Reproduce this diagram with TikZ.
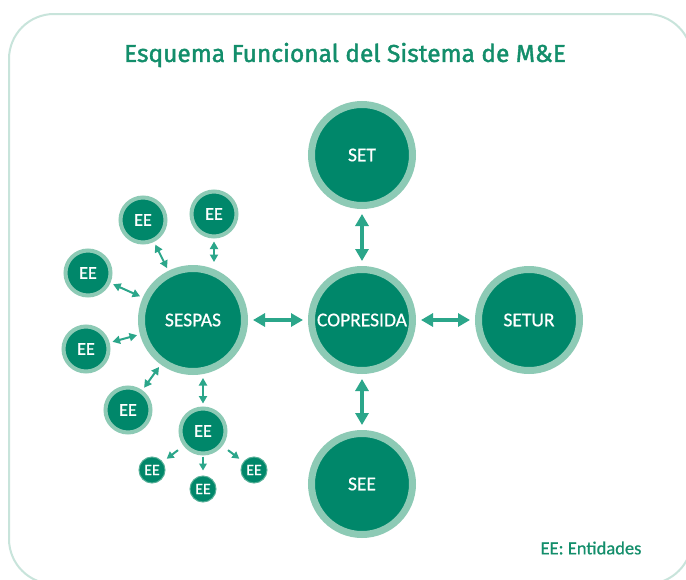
\documentclass[tikz,border=0pt]{standalone}
\usepackage{fontspec}
\setmainfont[FakeBold=0.6]{Carlito}
\newfontfamily\titlefont[FakeBold=1.6]{Fira Sans}
\usetikzlibrary{arrows.meta}
\definecolor{dkgreen}{HTML}{00876A}
\definecolor{ringgreen}{HTML}{8DCAB5}
\definecolor{arrowgreen}{HTML}{2BA68A}
\definecolor{titlegreen}{HTML}{138E6B}
\definecolor{framegreen}{HTML}{C8E4DB}
\begin{document}
\begin{tikzpicture}[x=1pt,y=-1pt,
  bignode/.style={circle, fill=dkgreen, draw=ringgreen, line width=7pt, minimum size=101pt, inner sep=0pt, text=white, font=\fontsize{19.5}{21}\selectfont},
  midnode/.style={circle, fill=dkgreen, draw=ringgreen, line width=4pt, minimum size=45pt, inner sep=0pt, text=white, font=\fontsize{18}{19}\selectfont},
  smallnode/.style={circle, fill=dkgreen, draw=ringgreen!60!dkgreen, line width=1pt, minimum size=26pt, inner sep=0pt, text=white, font=\fontsize{16}{17}\selectfont},
  bigarrow/.style={draw=arrowgreen, line width=3.5pt, {Triangle[length=12pt,width=13pt]}-{Triangle[length=12pt,width=13pt]}, shorten >=5pt, shorten <=5pt},
  midarrow/.style={draw=arrowgreen, line width=2pt, {Triangle[length=7.5pt,width=8pt]}-{Triangle[length=7.5pt,width=8pt]}, shorten >=3pt, shorten <=3pt},
  outarrow/.style={draw=arrowgreen, line width=2pt, -{Triangle[length=7pt,width=7.5pt]}}
]
\useasboundingbox (0,0) rectangle (686,579);
\fill[white] (0,0) rectangle (686,579);
\begin{scope}
\clip (0,0) rectangle (686,579);
\draw[framegreen, line width=2pt, rounded corners=45pt] (9,14) rectangle (692,584);
\end{scope}

\node[text=titlegreen, font=\titlefont\fontsize{24.5}{28}\selectfont] (title) at (345,55) {Esquema Funcional del Sistema de M\&E};

\node[bignode] (set) at (362,155) {SET};
\node[bignode] (cop) at (362,320) {COPRESIDA};
\node[bignode] (setur) at (529,320) {SETUR};
\node[bignode] (see) at (362,484) {SEE};
\node[bignode, minimum size=103pt] (sespas) at (193,320) {SESPAS};

\node[midnode] (ee1) at (143,220) {EE};
\node[midnode] (ee2) at (214,214) {EE};
\node[midnode] (ee3) at (88,273) {EE};
\node[midnode] (ee4) at (86,349) {EE};
\node[midnode] (ee5) at (128,410) {EE};
\node[midnode] (ee6) at (203,431) {EE};

\node[smallnode] (se1) at (152,470) {EE};
\node[smallnode] (se2) at (203,489) {EE};
\node[smallnode] (se3) at (254,470) {EE};

\node[text=titlegreen, font=\fontsize{18.5}{20}\selectfont] (legend) at (591,548) {EE: Entidades};

\draw[bigarrow] (set) -- (cop);
\draw[bigarrow] (cop) -- (see);
\draw[bigarrow] (sespas) -- (cop);
\draw[bigarrow] (cop) -- (setur);

\draw[midarrow] (ee1) -- (sespas);
\draw[midarrow] (ee2.south) -- (ee2.south |- sespas.north);
\draw[midarrow] (ee3) -- (sespas);
\draw[midarrow] (ee4) -- (sespas);
\draw[midarrow] (ee5) -- (sespas);
\draw[midarrow] (ee6.north) -- (ee6.north |- sespas.south);

\draw[outarrow, shorten <=7pt, shorten >=5pt] (ee6) -- (se1);
\draw[outarrow, shorten <=1pt, shorten >=5pt] (ee6.south) -- (se2);
\draw[outarrow, shorten <=7pt, shorten >=5pt] (ee6) -- (se3);
\end{tikzpicture}
\end{document}
